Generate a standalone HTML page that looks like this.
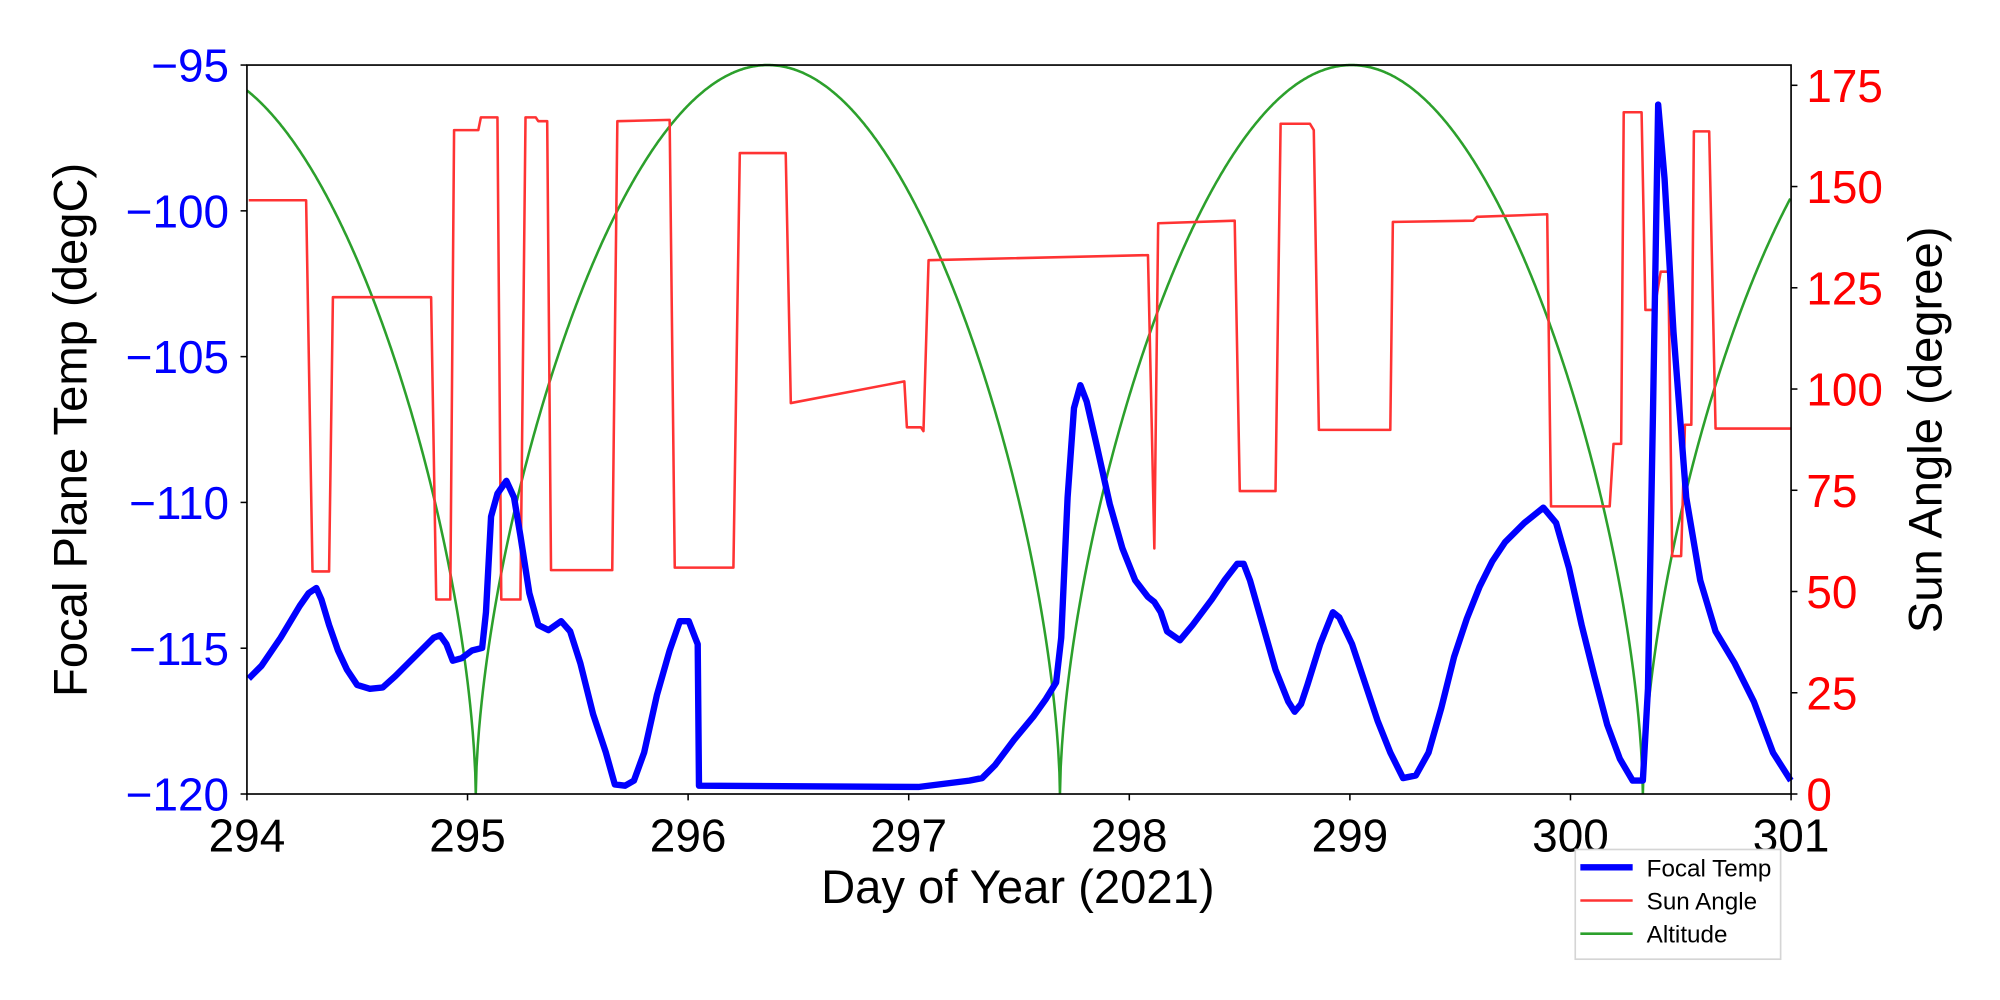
<!DOCTYPE html>
<html><head><meta charset="utf-8"><style>html,body{margin:0;padding:0;background:#fff}svg{display:block}</style></head>
<body>
<svg id="s" width="2000" height="1000" viewBox="0 0 1568 784" xmlns="http://www.w3.org/2000/svg" font-family="Liberation Sans, DejaVu Sans, sans-serif">
<rect width="1568" height="784" fill="#fff"/>
<g id="plot"></g>
<rect x="193.6" y="51" width="1210.6" height="571.5" fill="none" stroke="#000" stroke-width="1.3"/>
<g id="ticks"></g>
<text x="798" y="708" font-size="37" text-anchor="middle">Day of Year (2021)</text>
<text transform="translate(68,337) rotate(-90)" font-size="37" text-anchor="middle">Focal Plane Temp (degC)</text>
<text transform="translate(1522,337) rotate(-90)" font-size="37" text-anchor="middle">Sun Angle (degree)</text>
<rect x="1235" y="666" width="161" height="86" fill="#fff" stroke="#d5d5d5" stroke-width="1.3"/>
<line x1="1239" y1="680" x2="1280" y2="680" stroke="#0000ff" stroke-width="5"/>
<line x1="1239" y1="706" x2="1280" y2="706" stroke="#ff3333" stroke-width="2"/>
<line x1="1239" y1="732" x2="1280" y2="732" stroke="#2ca02c" stroke-width="2"/>
<text x="1291" y="687" font-size="19">Focal Temp</text>
<text x="1291" y="713" font-size="19">Sun Angle</text>
<text x="1291" y="739" font-size="19">Altitude</text>
</svg>
<script>
var L=193.6,R=1404.2,T=51,B=622.5,NS="http://www.w3.org/2000/svg";
var plot=document.getElementById('plot'),tk=document.getElementById('ticks');
function el(p,n,a,t){var e=document.createElementNS(NS,n);for(var k in a)e.setAttribute(k,a[k]);if(t!==undefined)e.textContent=t;p.appendChild(e);return e;}
var pts=[];var zs=[-85,373,831,1288,1745];
var xs=[];for(var x=L;x<=R;x+=1)xs.push(x);xs=xs.concat([373,831,1288]).sort(function(a,b){return a-b;});
xs.forEach(function(x){var i=0;while(x>zs[i+1])i++;var t=(x-zs[i])/(zs[i+1]-zs[i]);var y=B-571.5*Math.pow(Math.max(0,Math.sin(Math.PI*t)),0.6);pts.push(x.toFixed(1)+','+y.toFixed(1));});
el(plot,'polyline',{points:pts.join(' '),fill:'none',stroke:'#2ca02c','stroke-width':2});
var sun="195,157 240,157 245,448 258,448 261,233 338,233 342,470 353,470 356,102 375,102 377,92 390,92 393,470 408,470 412,92 420,92 422,95 429,95 432,447 480,447 484,95 525,94 529,445 575,445 580,120 616,120 620,316 709,299 711,335 722,335 724,338 728,204 900,200 903,335 905,430 908,175 968,173 972,385 1000,385 1004,97 1027,97 1030,102 1034,337 1090,337 1092,174 1155,173 1158,170 1213,168 1216,397 1262,397 1265,348 1271,348 1273,88 1287,88 1290,243 1297,243 1302,213 1308,213 1311,436 1318,436 1321,333 1326,333 1328,103 1340,103 1345,336 1404,336";
el(plot,'polyline',{points:sun,fill:'none',stroke:'#ff3333','stroke-width':2,'stroke-linejoin':'round'});
var ft="195,532 205,522 220,500 235,475 242,465 248,461 252,470 258,490 265,510 272,525 280,537 290,540 300,539 310,530 320,520 330,510 340,500 345,498 350,505 355,518 362,516 370,510 378,508 381,480 385,405 390,387 397,377 403,390 408,420 415,465 422,490 430,494 440,487 447,495 455,520 465,560 475,590 482,615 490,616 497,612 505,590 515,545 525,510 533,487 540,487 545,500 547,505 548,616 720,617 760,612 770,610 780,600 795,580 810,562 820,548 828,535 832,500 837,390 842,320 847,302 852,315 860,350 870,395 880,430 890,455 900,468 905,472 910,480 915,495 925,502 935,490 950,470 960,455 970,442 975,442 980,455 990,490 1000,525 1010,550 1015,558 1020,552 1025,537 1035,505 1045,480 1050,484 1060,505 1070,535 1080,565 1090,590 1100,610 1110,608 1120,590 1130,555 1140,515 1150,485 1160,460 1170,440 1180,425 1195,410 1210,398 1220,410 1230,445 1240,490 1250,530 1260,568 1270,595 1280,612 1288,612 1292,540 1296,320 1300,82 1305,140 1312,260 1322,390 1333,455 1345,495 1360,520 1375,550 1390,590 1404,612";
el(plot,'polyline',{points:ft,fill:'none',stroke:'#0000ff','stroke-width':5,'stroke-linejoin':'round'});
for(var d=294;d<=301;d++){var x=L+(d-294)*(R-L)/7;el(tk,'line',{x1:x,y1:B,x2:x,y2:B+5,stroke:'#000','stroke-width':1.2});el(tk,'text',{x:x,y:B+45,'font-size':36,'text-anchor':'middle'},d);}
for(var v=-95;v>=-120;v-=5){var y=T+(-95-v)*(B-T)/25;el(tk,'line',{x1:L,y1:y,x2:L-5,y2:y,stroke:'#000','stroke-width':1.2});el(tk,'text',{x:L-14,y:y+13,'font-size':36,'text-anchor':'end',fill:'#0000ff'},(v<0?'\u2212'+(-v):v));}
for(var a=0;a<=175;a+=25){var y=B-a*(B-T)/180;el(tk,'line',{x1:R,y1:y,x2:R+5,y2:y,stroke:'#000','stroke-width':1.2});el(tk,'text',{x:R+12,y:y+13,'font-size':36,fill:'#ff0000'},a);}
</script>
</body></html>
